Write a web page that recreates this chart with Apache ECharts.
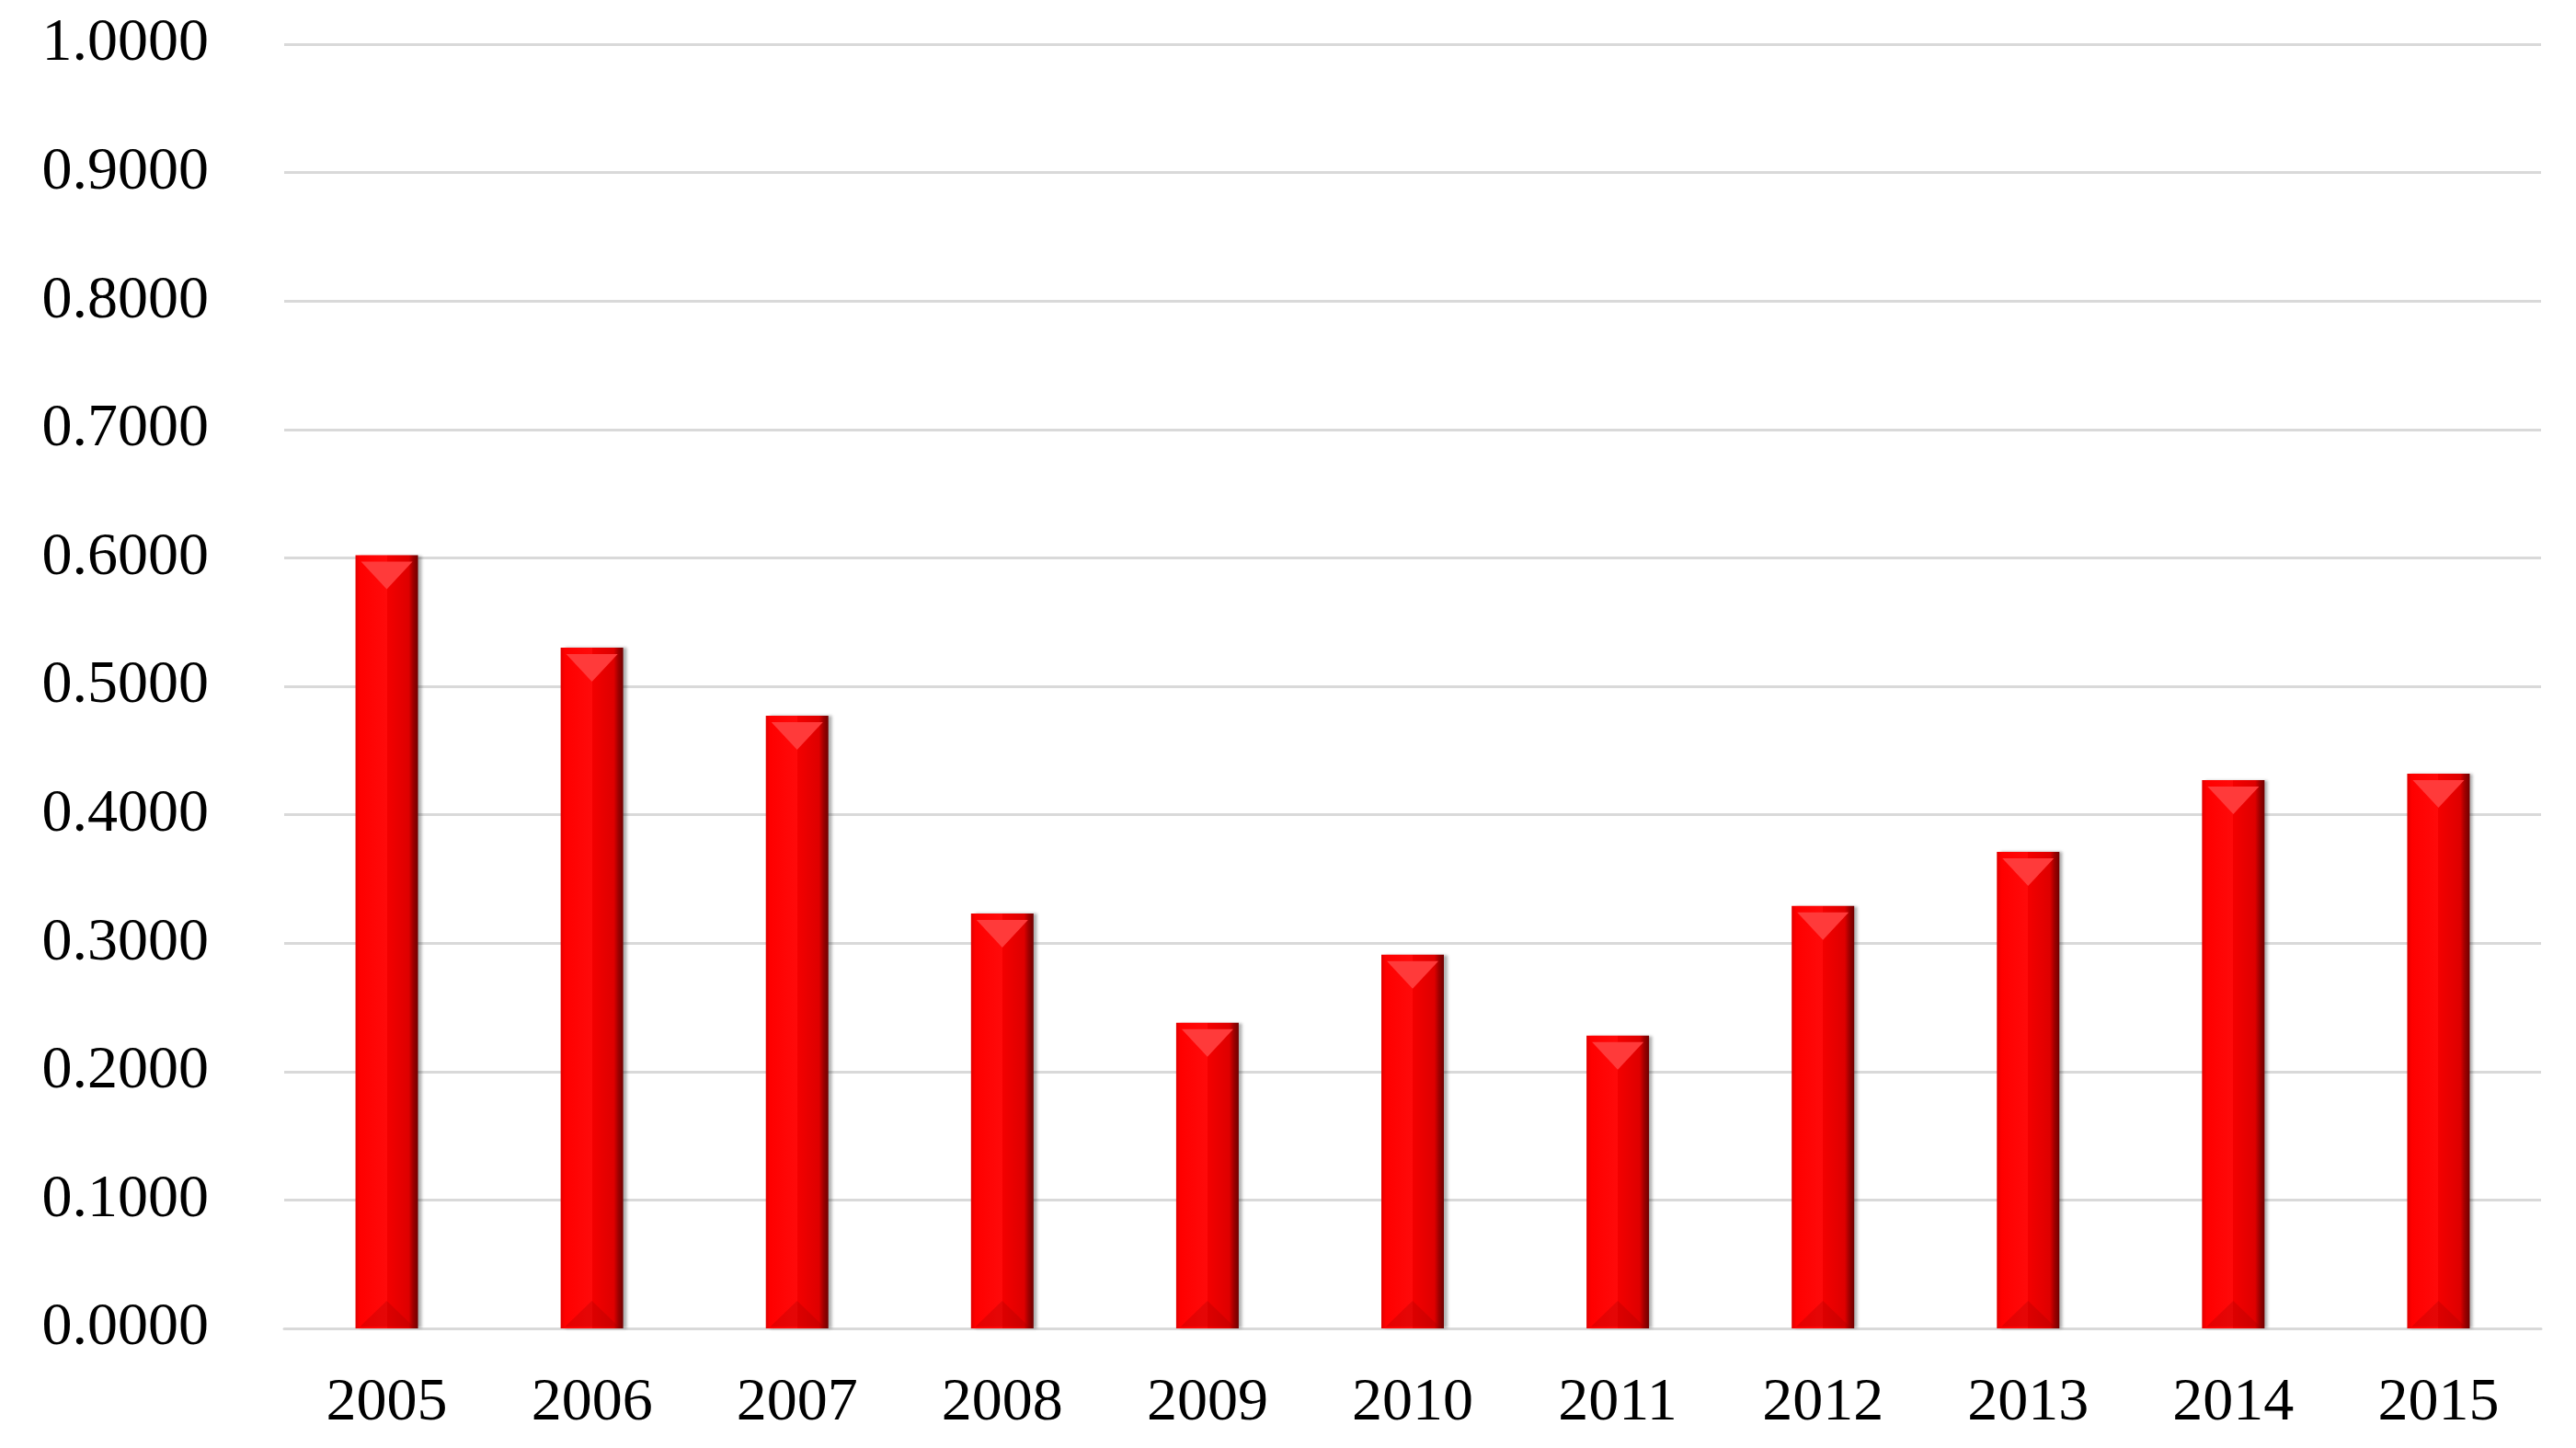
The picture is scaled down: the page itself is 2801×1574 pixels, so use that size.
<!DOCTYPE html>
<html>
<head>
<meta charset="utf-8">
<script src="https://cdn.jsdelivr.net/npm/echarts@6/dist/echarts.min.js"></script>
<style>
  html, body { margin: 0; padding: 0; background: #ffffff; }
  #main { width: 2801px; height: 1574px; }
</style>
</head>
<body>
<div id="main"></div>
<script>
const years = ['2005', '2006', '2007', '2008', '2009', '2010', '2011', '2012', '2013', '2014', '2015'];
const values = [0.602, 0.530, 0.477, 0.323, 0.238, 0.291, 0.228, 0.329, 0.371, 0.427, 0.432];

const chart = echarts.init(document.getElementById('main'));

const labelFont = {
    color: '#000000',
    fontFamily: '"Liberation Serif", "DejaVu Serif", serif',
    fontSize: 66
};

const option = {
    backgroundColor: '#ffffff',
    animation: false,
    grid: { left: 309, right: 38, top: 48, bottom: 130 },
    xAxis: {
        type: 'category',
        data: years,
        axisLine: { lineStyle: { color: '#d9d9d9', width: 3 } },
        axisTick: { show: false },
        axisLabel: Object.assign({ margin: 49 }, labelFont)
    },
    yAxis: {
        type: 'value',
        min: 0,
        max: 1,
        interval: 0.1,
        axisLine: { show: false },
        axisTick: { show: false },
        axisLabel: Object.assign({ margin: 82, formatter: v => v.toFixed(4) }, labelFont),
        splitLine: { lineStyle: { color: '#d9d9d9', width: 3 } }
    },
    series: [
        {
            // main bars with the bevel shading
            type: 'bar',
            data: values,
            barWidth: 68,
            itemStyle: {
                color: new echarts.graphic.LinearGradient(0, 0, 1, 0, [
                    { offset: 0, color: '#e00000' },
                    { offset: 0.07, color: '#ff0000' },
                    { offset: 0.5, color: '#ff0a0a' },
                    { offset: 0.5, color: '#f40000' },
                    { offset: 0.85, color: '#de0000' },
                    { offset: 0.92, color: '#a00000' },
                    { offset: 1, color: '#700000' }
                ]),
                shadowColor: 'rgba(0,0,0,0.3)',
                shadowBlur: 3,
                shadowOffsetX: 4
            },
            z: 2
        },
        {
            // light triangle at the top of each bar
            type: 'pictorialBar',
            data: values,
            symbol: 'triangle',
            symbolRotate: 180,
            symbolSize: [56, 30],
            symbolPosition: 'end',
            symbolOffset: [0, 7],
            itemStyle: { color: '#ff3a3a' },
            silent: true,
            z: 3
        },
        {
            // dark triangle at the foot of each bar
            type: 'pictorialBar',
            data: values,
            symbol: 'triangle',
            symbolSize: [58, 28],
            symbolPosition: 'start',
            symbolOffset: [0, -2],
            itemStyle: { color: 'rgba(150,0,0,0.25)' },
            silent: true,
            z: 3
        }
    ]
};

chart.setOption(option);
</script>
</body>
</html>
